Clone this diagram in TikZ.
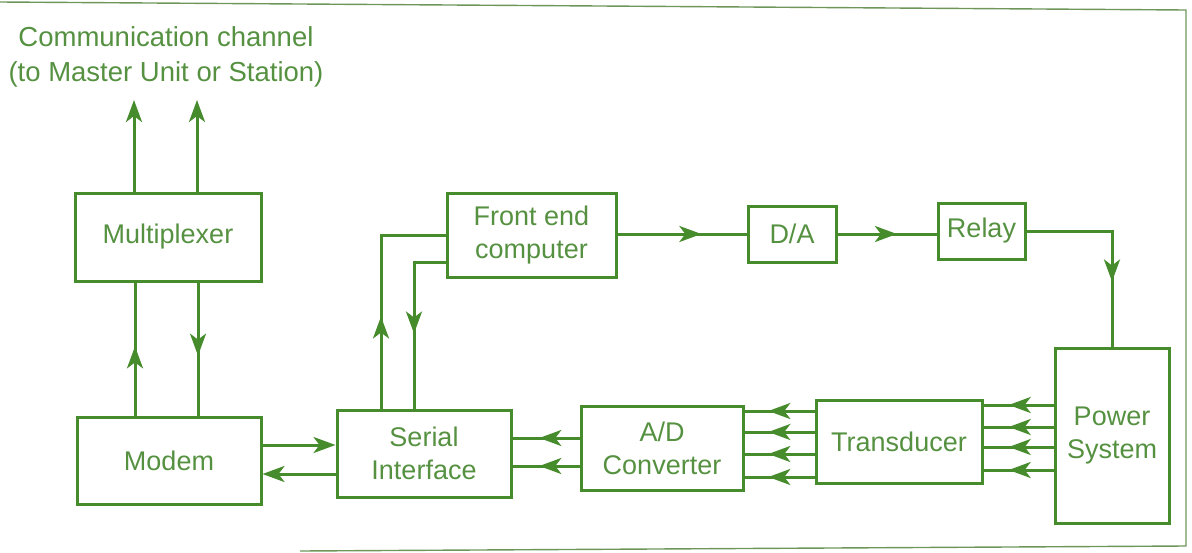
\documentclass[tikz,border=0pt]{standalone}
\usepackage{fontspec}
\setmainfont{Liberation Sans}
\usetikzlibrary{arrows.meta,decorations.markings,calc}
\definecolor{lg}{RGB}{70,140,45}
\definecolor{tg}{RGB}{85,145,65}
\definecolor{fr}{RGB}{110,150,90}
\begin{document}
\begin{tikzpicture}[x=1pt,y=-1pt,
  box/.style={draw=lg,line width=3pt,inner sep=0pt,align=center,text=tg,font=\fontsize{27}{33}\selectfont},
  conn/.style={draw=lg,line width=3pt},
  tip/.style={-{Stealth[length=22pt,width=16pt,inset=6pt]}},
  midarr/.style={postaction={decorate},decoration={markings,mark=at position #1 with {\arrow{Stealth[length=22pt,width=16pt,inset=6pt]}}}}
]
\useasboundingbox (0,0) rectangle (1192,552);
% page frame
\draw[fr,line width=1.4pt] (0,2) -- (600,6) -- (1186,10) -- (1186,546) -- (300,551);

% blocks
\node[box,minimum width=186pt,minimum height=88pt] (mux) at (168,237) {Multiplexer};
\node[box,minimum width=184pt,minimum height=87pt] (modem) at (169,460.5) {Modem};
\node[box,minimum width=174pt,minimum height=87pt] (serial) at (424,453.5) {Serial\\Interface};
\node[box,minimum width=169pt,minimum height=84pt] (fe) at (531.5,235) {Front end\\computer};
\node[box,minimum width=88pt,minimum height=56pt] (da) at (792,234) {D/A};
\node[box,minimum width=87pt,minimum height=56pt] (relay) at (981.5,231) {Relay};
\node[box,minimum width=162pt,minimum height=84pt] (ad) at (662,448) {A/D\\Converter};
\node[box,minimum width=166pt,minimum height=83pt] (trans) at (899,441.5) {Transducer};
\node[box,minimum width=114pt,minimum height=175pt] (power) at (1112,435.5) {Power\\System};
\node[text=tg,align=center,inner sep=0pt,font=\fontsize{27.5}{35}\selectfont] (comm) at (166,57) {Communication channel\\(to Master Unit or Station)};

% helper coordinates
\coordinate (t1) at (134,100);
\coordinate (t2) at (197,100);
\coordinate (x1) at (135,0);
\coordinate (x2) at (198,0);
\coordinate (x3) at (381,0);
\coordinate (x4) at (414,0);
\coordinate (x5) at (1112,0);
\coordinate (y1) at (0,445);
\coordinate (y2) at (0,474);
\coordinate (y3) at (0,235);
\coordinate (y4) at (0,262);

% connectors
\draw[conn,tip] (mux.north -| t1) -- (t1);
\draw[conn,tip] (mux.north -| t2) -- (t2);
\draw[conn,midarr=0.52] (modem.north -| x1) -- (mux.south -| x1);
\draw[conn,midarr=0.55] (mux.south -| x2) -- (modem.north -| x2);
\draw[conn,tip] (modem.east |- y1) -- (serial.west |- y1);
\draw[conn,tip] (serial.west |- y2) -- (modem.east |- y2);
\draw[conn,midarr=92pt] (serial.north -| x3) |- (fe.west |- y3);
\draw[conn,midarr=103pt] (fe.west |- y4) -| (serial.north -| x4);
\draw[conn,midarr=0.65] (fe.east |- da.west) -- (da.west);
\draw[conn,midarr=0.6] (da.east) -- (relay.west |- da.east);
\draw[conn,midarr=-65pt] (relay.east) -| (power.north -| x5);
\foreach \yy in {405,427,447,470}{
  \coordinate (p) at (0,\yy);
  \draw[conn,midarr=0.64] (power.west |- p) -- (trans.east |- p);
}
\foreach \yy in {411,432,454,477}{
  \coordinate (q) at (0,\yy);
  \draw[conn,midarr=0.66] (trans.west |- q) -- (ad.east |- q);
}
\foreach \yy in {438,466}{
  \coordinate (r) at (0,\yy);
  \draw[conn,midarr=0.6] (ad.west |- r) -- (serial.east |- r);
}
\end{tikzpicture}
\end{document}
